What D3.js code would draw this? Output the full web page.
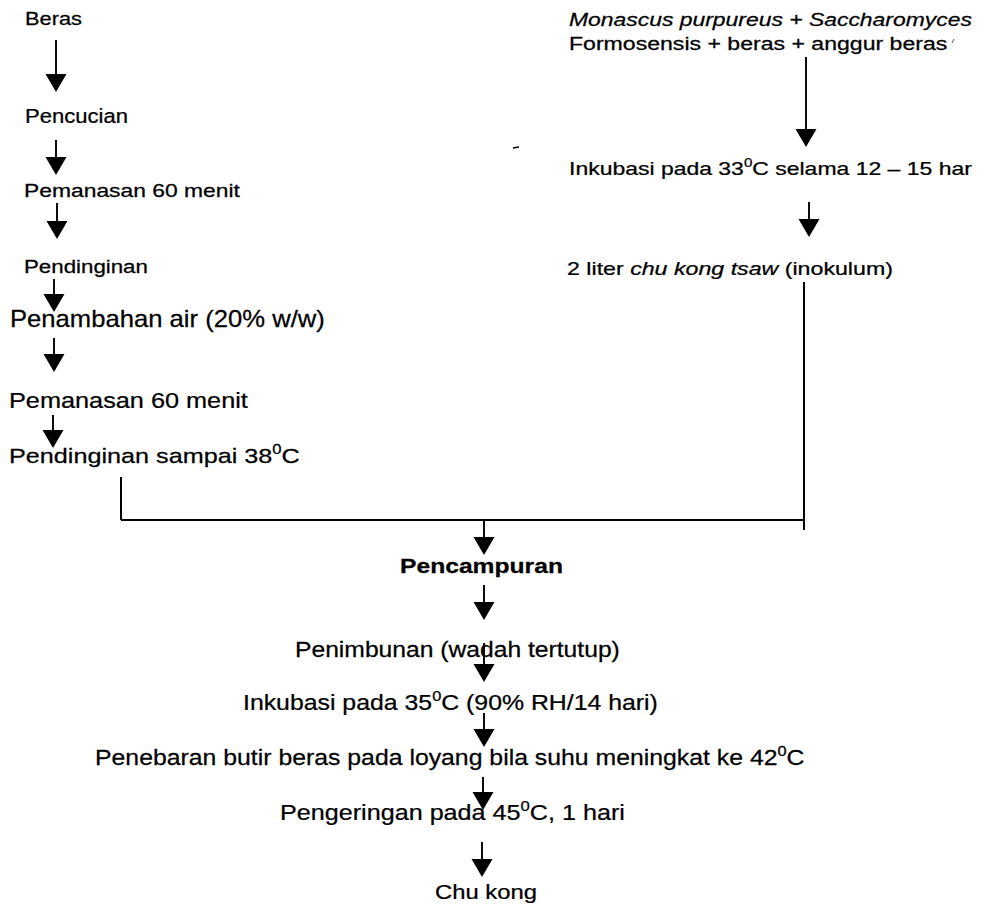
<!DOCTYPE html>
<html>
<head>
<meta charset="utf-8">
<script src="https://cdn.jsdelivr.net/npm/d3@7"></script>
<style>
  html, body { margin: 0; padding: 0; background: #fff; }
  svg { display: block; }
  text { font-family: "Liberation Sans", Arial, sans-serif; fill: #000; stroke: #000; stroke-width: 0.25px; }
</style>
</head>
<body>
<svg id="chart" width="986" height="905"></svg>
<script>
// ---- content (flow steps) ----
const leftSteps = [
  [{t: "Beras"}],
  [{t: "Pencucian"}],
  [{t: "Pemanasan 60 menit"}],
  [{t: "Pendinginan"}],
  [{t: "Penambahan air (20% w/w)"}],
  [{t: "Pemanasan 60 menit"}],
  [{t: "Pendinginan sampai 38"}, {t: "0", sup: true}, {t: "C"}]
];
const rightSteps = [
  [{t: "Monascus purpureus + Saccharomyces", it: true}],
  [{t: "Formosensis + beras + anggur beras"}],
  [{t: "Inkubasi pada 33"}, {t: "0", sup: true}, {t: "C selama 12 \u2013 15 har"}],
  [{t: "2 liter "}, {t: "chu kong tsaw", it: true}, {t: " (inokulum)"}]
];
const mainSteps = [
  [{t: "Pencampuran", b: true}],
  [{t: "Penimbunan (wadah tertutup)"}],
  [{t: "Inkubasi pada 35"}, {t: "0", sup: true}, {t: "C (90% RH/14 hari)"}],
  [{t: "Penebaran butir beras pada loyang bila suhu meningkat ke 42"}, {t: "0", sup: true}, {t: "C"}],
  [{t: "Pengeringan pada 45"}, {t: "0", sup: true}, {t: "C, 1 hari"}],
  [{t: "Chu kong"}]
];

// ---- layout (page positions) ----
const leftTextLayout = [
  [25, 82, 25, 18], [25, 128, 123, 19.5], [24, 240, 197, 18], [24, 148, 273, 18],
  [10, 325, 327, 23], [9, 248, 408, 22], [9, 300, 463, 21]
];
const rightTextLayout = [
  [569, 972, 26, 18], [569, 948, 50, 17.5], [569, 972, 175, 18], [567, 893, 275, 18]
];
const mainTextLayout = [
  [400, 563, 573, 19.5], [295, 620, 657, 22], [243, 658, 710, 22],
  [95, 805, 765, 22], [280, 625, 820, 22.5], [435, 537, 899, 20]
];
const leftArrows = [[56, 40, 92], [56, 140, 175], [57, 203, 239], [54, 279, 312], [54, 338, 372], [53, 415, 448]];
const rightArrows = [[806, 57, 147], [809, 202, 237]];
const mainArrows = [[484, 520, 555], [484, 585, 620], [484, 643, 682], [484, 713, 747], [483, 777, 810], [482, 842, 877]];
const connectorLines = [
  [121, 477, 121, 520], [121, 520, 804, 520], [804, 282, 804, 530]
];

const svg = d3.select("#chart");
const x = d3.scaleIdentity().domain([0, 986]);
const y = d3.scaleIdentity().domain([0, 905]);

svg.append("rect").attr("width", 986).attr("height", 905).attr("fill", "#fff");

function drawLabel(segs, lay) {
  const [x0, x1, base, fs] = lay;
  const g = svg.append("g");
  const t = g.append("text").attr("x", 0).attr("y", 0).style("font-size", fs + "px");
  let raised = false;
  segs.forEach(s => {
    const ts = t.append("tspan").text(s.t);
    if (s.it) ts.style("font-style", "italic");
    if (s.b) ts.style("font-weight", "bold");
    if (s.sup) {
      ts.style("font-size", (fs * 0.66) + "px").attr("dy", -fs * 0.42);
      raised = true;
    } else if (raised) {
      ts.attr("dy", fs * 0.42);
      raised = false;
    }
  });
  const bb = t.node().getBBox();
  const sx = (x(x1) - x(x0)) / bb.width;
  g.attr("transform", `translate(${x(x0) - bb.x * sx},${y(base)}) scale(${sx},1)`);
}

leftSteps.forEach((s, i) => drawLabel(s, leftTextLayout[i]));
rightSteps.forEach((s, i) => drawLabel(s, rightTextLayout[i]));
mainSteps.forEach((s, i) => drawLabel(s, mainTextLayout[i]));

function drawArrow(a) {
  const [ax, top, tip] = a;
  const headH = 18, headW = 10.5;
  svg.append("line")
    .attr("x1", x(ax)).attr("x2", x(ax))
    .attr("y1", y(top)).attr("y2", y(tip - headH + 1))
    .attr("stroke", "#000").attr("stroke-width", 1.9);
  svg.append("path")
    .attr("d", d3.line()([[x(ax) - headW, y(tip - headH)], [x(ax) + headW, y(tip - headH)], [x(ax), y(tip)]]) + "Z")
    .attr("fill", "#000");
}
leftArrows.forEach(drawArrow);
rightArrows.forEach(drawArrow);
mainArrows.forEach(drawArrow);

svg.selectAll("line.conn").data(connectorLines).join("line")
  .attr("class", "conn")
  .attr("x1", d => x(d[0])).attr("y1", d => y(d[1]))
  .attr("x2", d => x(d[2])).attr("y2", d => y(d[3]))
  .attr("stroke", "#000").attr("stroke-width", 2);

// small scan specks present in the original
svg.append("line").attr("x1", 513).attr("x2", 519).attr("y1", 148).attr("y2", 147)
  .attr("stroke", "#000").attr("stroke-width", 1.6);
svg.append("line").attr("x1", 952).attr("x2", 954).attr("y1", 43).attr("y2", 39)
  .attr("stroke", "#555").attr("stroke-width", 1);
</script>
</body>
</html>
